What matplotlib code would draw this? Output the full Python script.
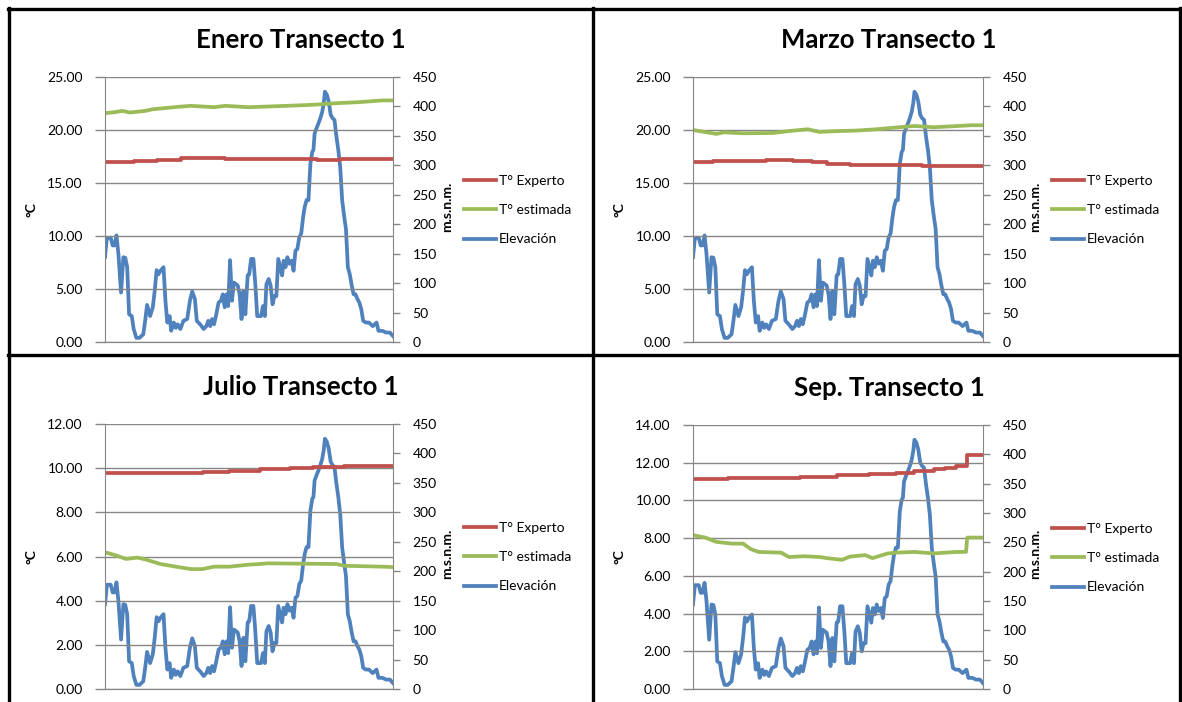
import matplotlib
matplotlib.use("Agg")
import matplotlib.pyplot as plt
from matplotlib.lines import Line2D
import numpy as np

plt.rcParams['font.family'] = ['Lato', 'DejaVu Sans']

# elevation profile (same in every panel), distance index along the transect
dist = [0, 5, 15, 20, 25, 30, 35, 42, 48, 53, 58, 63, 70, 75, 82, 90, 100, 105, 110, 118,
        125, 130, 135, 140, 145, 153, 158, 163, 169, 173, 180, 185, 190, 197, 205, 215, 222,
        228, 235, 240, 250, 258, 265, 270, 275, 280, 285, 290, 297, 303, 308, 313, 318, 322,
        327, 332, 337, 343, 347, 352, 357, 362, 367, 373, 377, 382, 388, 393, 398, 408, 413,
        418, 422, 428, 433, 438, 443, 448, 453, 458, 463, 467, 472, 477, 482, 488, 493, 498,
        503, 508, 513, 518, 522, 527, 532, 537, 542, 545, 548, 553, 558, 563, 568, 572, 575,
        580, 585, 590, 595, 600, 605, 610, 615, 620, 625, 630, 635, 640, 645, 650, 655, 660,
        665, 670, 675, 682, 690, 700, 705, 710, 715, 725, 735, 745, 753]
elev = [144, 177, 177, 164, 164, 181, 150, 84, 144, 143, 127, 47, 44, 22, 7, 7, 13, 36, 63, 44,
        59, 87, 122, 115, 121, 127, 70, 33, 44, 19, 33, 24, 30, 22, 36, 39, 70,
        86, 73, 36, 29, 22, 27, 36, 27, 39, 30, 44, 67, 70, 81, 59, 81, 61,
        139, 70, 101, 98, 96, 81, 39, 87, 47, 113, 115, 141, 141, 98, 44, 44, 61,
        44, 98, 107, 96, 64, 78, 78, 141, 127, 113, 138, 127, 144, 133, 138, 121, 155,
        158, 178, 184, 212, 229, 241, 241, 303, 323, 326, 354, 363, 371, 380, 391, 406, 425,
        420, 408, 386, 380, 377, 349, 326, 297, 241, 215, 192, 127, 115, 96, 81, 81, 73,
        67, 56, 36, 33, 33, 27, 30, 33, 19, 19, 16, 16, 10]

# temperature series (distance, value)
ene_exp_x = [0, 25, 75, 135, 200, 315, 555, 615, 753]
ene_exp_y = [16.94, 17.0, 17.1, 17.2, 17.35, 17.25, 17.15, 17.25, 17.25]
ene_est_x = [0, 25, 45, 65, 105, 125, 155, 195, 225, 285, 315, 375, 475, 545, 605, 665, 725, 753]
ene_est_y = [21.59, 21.68, 21.8, 21.65, 21.8, 21.96, 22.06, 22.2, 22.28, 22.15, 22.28, 22.15,
             22.28, 22.38, 22.53, 22.63, 22.79, 22.79]

mar_exp_x = [0, 51, 190, 259, 308, 348, 407, 595, 753]
mar_exp_y = [16.94, 17.07, 17.19, 17.07, 16.94, 16.81, 16.72, 16.59, 16.59]
mar_est_x = [0, 61, 81, 130, 209, 249, 298, 328, 377, 427, 476, 526, 575, 625, 674, 723, 753]
mar_est_y = [20.0, 19.63, 19.78, 19.69, 19.72, 19.9, 20.07, 19.82, 19.9, 19.95, 20.07, 20.23,
             20.38, 20.26, 20.35, 20.45, 20.45]

jul_exp_x = [0, 255, 325, 405, 485, 545, 625, 753]
jul_exp_y = [9.77, 9.83, 9.89, 9.96, 10.02, 10.06, 10.11, 10.11]
jul_est_x = [0, 25, 55, 85, 105, 145, 185, 225, 255, 285, 325, 375, 405, 425, 605, 625, 725, 753]
jul_est_y = [6.19, 6.07, 5.89, 5.95, 5.87, 5.66, 5.54, 5.43, 5.43, 5.54, 5.54, 5.63, 5.66,
             5.69, 5.66, 5.58, 5.54, 5.52]

sep_exp_x = [0, 91, 279, 373, 457, 526, 575, 625, 654, 684, 712, 753]
sep_exp_y = [11.12, 11.19, 11.26, 11.33, 11.42, 11.47, 11.55, 11.65, 11.72, 11.81, 12.43, 12.43]
sep_est_x = [0, 32, 61, 101, 130, 150, 170, 229, 249, 289, 328, 348, 387, 407, 447, 466,
             506, 526, 575, 625, 684, 709, 712, 753]
sep_est_y = [8.16, 8.03, 7.8, 7.71, 7.71, 7.42, 7.27, 7.23, 7.0, 7.04, 7.0, 6.94, 6.85, 7.02,
             7.1, 6.94, 7.19, 7.23, 7.27, 7.19, 7.27, 7.27, 8.03, 8.03]

titles = ["Enero Transecto 1", "Marzo Transecto 1", "Julio Transecto 1", "Sep. Transecto 1"]
ymax = [25, 25, 12, 14]
ystep = [5, 5, 2, 2]
series = [(ene_exp_x, ene_exp_y, ene_est_x, ene_est_y),
          (mar_exp_x, mar_exp_y, mar_est_x, mar_est_y),
          (jul_exp_x, jul_exp_y, jul_est_x, jul_est_y),
          (sep_exp_x, sep_exp_y, sep_est_x, sep_est_y)]

RED = '#C0504D'
GREEN = '#9BBB59'
BLUE = '#4F81BD'
GRAY = '#868686'

W, H = 1182, 702
fig = plt.figure(figsize=(W / 100, H / 100), dpi=100)

# pixel layout of each panel: plot left, top, bottom, width
panels = [(105, 77, 342, 288), (693, 77, 342, 290), (105, 424, 689, 288), (693, 425, 689, 290)]

for i, (px, ptop, pbot, pw) in enumerate(panels):
    ax = fig.add_axes([px / W, 1 - pbot / H, pw / W, (pbot - ptop) / H])
    ax2 = ax.twinx()
    ax.set_zorder(ax2.get_zorder() + 1)
    ax.patch.set_visible(False)

    ex, ey, sx, sy = series[i]
    l1, = ax.plot(ex, ey, color=RED, lw=2.7, drawstyle='steps-post')
    l2, = ax.plot(sx, sy, color=GREEN, lw=2.7)
    l3, = ax2.plot(dist, elev, color=BLUE, lw=2.7)

    ax.set_xlim(0, 753)
    ax.set_ylim(0, ymax[i])
    ticks = np.arange(0, ymax[i] + 0.01, ystep[i])
    ax.set_yticks(ticks)
    ax.set_yticklabels([f"{v:.2f}" for v in ticks])
    ax2.set_ylim(0, 450)
    ax2.set_yticks(range(0, 451, 50))
    ax.set_xticks([])
    ax.grid(axis='y', color=GRAY, lw=1)
    ax.set_axisbelow(True)
    for a in (ax, ax2):
        a.spines['top'].set_visible(False)
        for s in ('left', 'right', 'bottom'):
            a.spines[s].set_color(GRAY)
        a.tick_params(axis='y', colors=GRAY, labelcolor='black', labelsize=10, width=1)
    ax.tick_params(axis='y', length=7, pad=9)
    ax2.tick_params(axis='y', length=5, pad=9)
    ax.spines['right'].set_visible(False)
    ax2.spines['left'].set_visible(False)

    fig.text((px + 196) / W, 1 - (ptop - 37) / H, titles[i], ha='center', va='center',
             fontsize=18.5, fontweight='bold')
    fig.text((px - 74) / W, 1 - ((ptop + pbot) / 2) / H, "°C", rotation=90, ha='center',
             va='center', fontsize=10, fontweight='bold')
    fig.text((px + 342) / W, 1 - ((ptop + pbot) / 2 - 3) / H, "m.s.n.m.", rotation=90,
             ha='center', va='center', fontsize=10, fontweight='bold')
    fig.legend([l1, l2, l3], ["T° Experto", "T° estimada", "Elevación"],
               loc='center left', bbox_to_anchor=((px + 359) / W, 1 - (ptop + 133) / H),
               frameon=False, fontsize=10, handlelength=2.3, handletextpad=0.2,
               labelspacing=1.25, borderaxespad=0, borderpad=0)

# panel borders
def hline(y, x0, x1):
    fig.add_artist(Line2D([x0 / W, x1 / W], [1 - y / H, 1 - y / H], color='black', lw=2.4))

def vline(x, y0, y1):
    fig.add_artist(Line2D([x / W, x / W], [1 - y0 / H, 1 - y1 / H], color='black', lw=2.4))

hline(9, 8, 1181)
hline(355, 8, 1181)
vline(9, 8, 702)
vline(593, 8, 702)
vline(1180, 8, 702)

fig.savefig("out.png", dpi=100)
